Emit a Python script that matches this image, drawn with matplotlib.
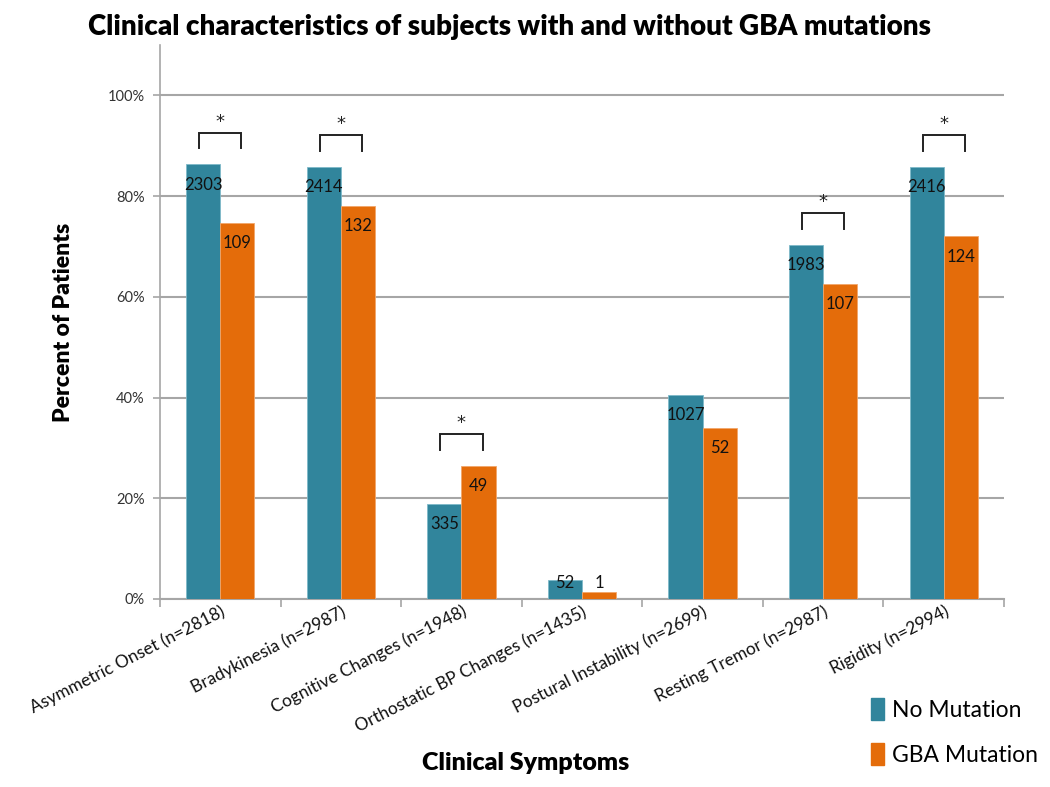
import numpy as np
import matplotlib
matplotlib.use("Agg")
import matplotlib.pyplot as plt
from matplotlib.patches import Patch

plt.rcParams["font.family"] = ["Lato", "DejaVu Sans"]

categories = ["Asymmetric Onset (n=2818)", "Bradykinesia (n=2987)", "Cognitive Changes (n=1948)",
              "Orthostatic BP Changes (n=1435)", "Postural Instability (n=2699)",
              "Resting Tremor (n=2987)", "Rigidity (n=2994)"]
no_mut_pct = [0.863, 0.858, 0.189, 0.038, 0.406, 0.703, 0.858]
gba_pct = [0.746, 0.781, 0.264, 0.013, 0.339, 0.626, 0.720]
no_mut_n = [2303, 2414, 335, 52, 1027, 1983, 2416]
gba_n = [109, 132, 49, 1, 52, 107, 124]
significant = [True, True, True, False, False, True, True]

TEAL, ORANGE, GRID = "#31859C", "#E46C0A", "#a6a6a6"

fig = plt.figure(figsize=(10.5, 7.87), dpi=100)
ax = fig.add_axes([160 / 1050, 1 - 599 / 787, 844 / 1050, 554 / 787])

x = np.arange(len(categories))
w = 0.283
ax.bar(x - w / 2, no_mut_pct, w, color=TEAL, edgecolor="#7fb9c9", lw=0.6, zorder=3)
ax.bar(x + w / 2, gba_pct, w, color=ORANGE, edgecolor="#f2a66a", lw=0.6, zorder=3)

for i in range(len(x)):
    for off, v, n in [(-w / 2, no_mut_pct[i], no_mut_n[i]), (w / 2, gba_pct[i], gba_n[i])]:
        ax.text(x[i] + off, max(v - 0.04, 0.032), str(n), ha="center", va="center",
                fontsize=12, color="#111111", zorder=5)
    if significant[i]:
        top = max(no_mut_pct[i], gba_pct[i]) + 0.063
        xl, xr = x[i] - 0.175, x[i] + 0.175
        ax.plot([xl, xl, xr, xr], [top - 0.031, top, top, top - 0.031], color="#222222",
                lw=1.4, zorder=5, solid_joinstyle="miter")
        ax.text(x[i], top + 0.004, "*", ha="center", va="bottom", fontsize=13,
                color="#222222", family="DejaVu Sans")

ax.set_xlim(-0.5, len(categories) - 0.5)
ax.set_ylim(0, 1.1)
ax.set_yticks([0, 0.2, 0.4, 0.6, 0.8, 1.0])
ax.set_yticklabels(["0%", "20%", "40%", "60%", "80%", "100%"], fontsize=10.5, color="#333333")
ax.yaxis.grid(True, color=GRID, lw=1.5, zorder=0)
ax.set_xticks(np.arange(len(categories) + 1) - 0.5, minor=False)
ax.set_xticklabels([])
ax.set_xticks(x, minor=True)
ax.set_xticklabels(categories, minor=True, rotation=27, ha="right", rotation_mode="anchor",
                   fontsize=12.5, color="#111111")
ax.tick_params(axis="x", which="minor", length=0, pad=3)
ax.tick_params(axis="x", which="major", length=6, color=GRID, width=1.2)
ax.tick_params(axis="y", length=5, color=GRID, width=1.2, pad=6)
for s in ["top", "right"]:
    ax.spines[s].set_visible(False)
ax.spines["left"].set_color(GRID)
ax.spines["left"].set_linewidth(1.2)
ax.spines["bottom"].set_color(GRID)
ax.spines["bottom"].set_linewidth(1.5)

ax.set_ylabel("Percent of Patients", fontsize=16.5, fontweight="heavy", labelpad=24)
fig.text(526 / 1050, 1 - 763 / 787, "Clinical Symptoms", ha="center", va="center",
         fontsize=18, fontweight="heavy")
fig.text(510 / 1050, 1 - 27 / 787, "Clinical characteristics of subjects with and without GBA mutations",
         ha="center", va="center", fontsize=20, fontweight="heavy")

handles = [Patch(color=TEAL, label="No Mutation"), Patch(color=ORANGE, label="GBA Mutation")]
fig.legend(handles=handles, loc="center left", bbox_to_anchor=(850 / 1050, 1 - 732 / 787),
           frameon=False, fontsize=16.5, handlelength=0.6, handleheight=1.1, labelspacing=0.95,
           handletextpad=0.35)

fig.savefig("out.png", dpi=100, facecolor="white")
